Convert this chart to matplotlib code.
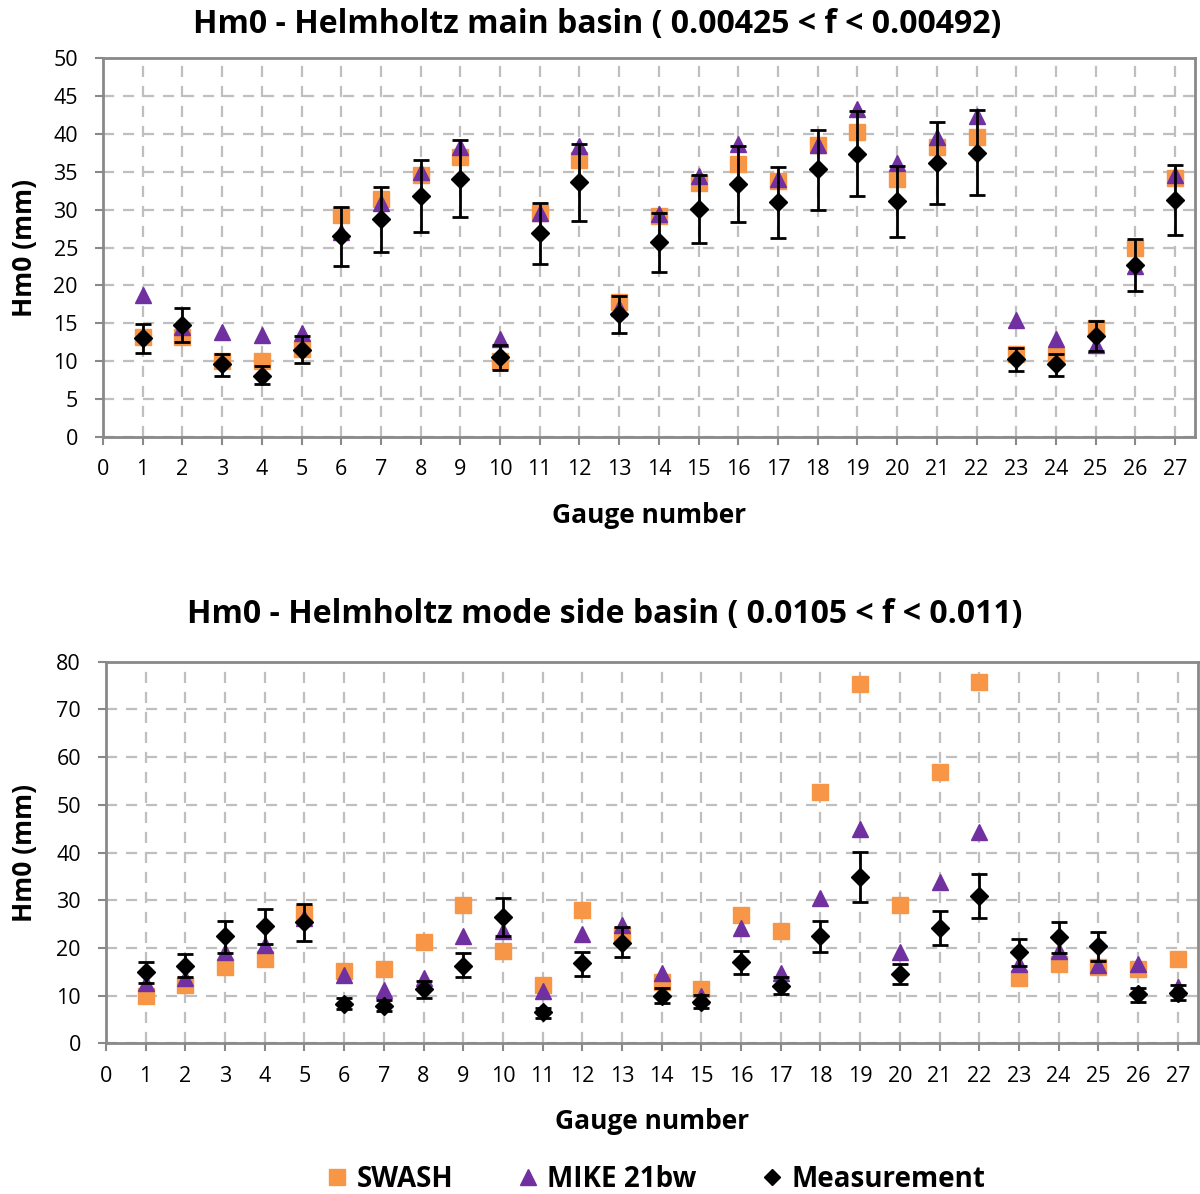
import numpy as np
import matplotlib
matplotlib.use("Agg")
import matplotlib.pyplot as plt
from matplotlib.lines import Line2D

plt.rcParams['font.family'] = ['Open Sans', 'DejaVu Sans']

gauges = list(range(1, 28))

# Top chart: main basin
swash_main = [13.2, 13.2, 10.0, 10.0, 11.6, 29.3, 31.4, 34.6, 37.0, 10.0, 29.6, 36.6, 17.8, 29.2,
              33.5, 36.0, 33.8, 38.5, 40.2, 34.1, 38.3, 39.6, 10.9, 10.7, 14.4, 24.9, 34.2]
mike_main = [18.7, 14.5, 13.8, 13.5, 13.7, 27.1, 30.9, 35.0, 38.2, 12.9, 29.5, 38.4, 17.0, 29.4,
             34.4, 38.7, 34.0, 38.5, 43.3, 36.1, 39.6, 42.3, 15.5, 12.9, 12.2, 22.6, 34.6]
meas_main = [13.1, 14.8, 9.6, 8.1, 11.5, 26.5, 28.7, 31.8, 34.1, 10.6, 26.9, 33.6, 16.2, 25.7,
             30.1, 33.4, 31.0, 35.3, 37.4, 31.1, 36.2, 37.5, 10.3, 9.6, 13.3, 22.7, 31.3]
meas_main_hi = [14.9, 17.0, 11.0, 9.4, 13.3, 30.4, 33.0, 36.6, 39.2, 12.1, 30.9, 38.7, 18.6, 29.5,
                34.6, 38.4, 35.6, 40.5, 43.0, 35.8, 41.6, 43.2, 11.8, 11.0, 15.3, 26.1, 35.9]
meas_main_lo = [11.1, 12.6, 8.1, 7.0, 9.8, 22.5, 24.4, 27.0, 29.0, 8.9, 22.8, 28.5, 13.7, 21.8,
                25.6, 28.4, 26.3, 30.0, 31.8, 26.4, 30.8, 31.9, 8.7, 8.1, 11.3, 19.3, 26.6]

# Bottom chart: side basin
swash_side = [10.0, 12.2, 15.9, 17.7, 27.4, 15.2, 15.6, 21.2, 28.9, 19.4, 12.2, 28.0, 22.7, 12.9,
              11.4, 26.9, 23.6, 52.6, 75.3, 29.1, 56.8, 75.8, 13.6, 16.6, 15.9, 15.6, 17.7]
mike_side = [12.6, 13.6, 19.1, 20.6, 26.3, 14.3, 11.2, 13.6, 22.6, 23.5, 11.0, 22.9, 24.7, 14.8,
             9.9, 24.1, 14.7, 30.5, 44.9, 19.2, 33.8, 44.2, 16.6, 19.4, 16.4, 16.6, 11.9]
meas_side = [14.9, 16.2, 22.4, 24.5, 25.5, 8.2, 7.9, 11.3, 16.3, 26.4, 6.5, 16.8, 21.1, 9.9,
             8.7, 17.0, 12.1, 22.4, 34.9, 14.5, 24.1, 30.9, 19.1, 22.2, 20.3, 10.3, 10.6]
meas_side_hi = [17.1, 18.7, 25.6, 28.2, 29.2, 9.6, 9.1, 13.1, 18.9, 30.4, 7.3, 19.2, 24.3, 11.5,
                10.1, 19.4, 13.8, 25.6, 40.1, 16.7, 27.7, 35.4, 21.9, 25.4, 23.3, 11.7, 12.2]
meas_side_lo = [12.7, 13.8, 19.0, 20.8, 21.5, 7.1, 6.8, 9.6, 13.8, 22.5, 5.4, 14.2, 18.0, 8.5,
                7.5, 14.5, 10.3, 19.1, 29.6, 12.4, 20.6, 26.2, 16.3, 18.9, 17.2, 8.7, 9.1]

titles = ["Hm0 - Helmholtz main basin ( 0.00425 < f < 0.00492)",
          "Hm0 - Helmholtz mode side basin ( 0.0105 < f < 0.011)"]
xticks = list(range(0, 28))

ORANGE = '#F79646'
PURPLE = '#7030A0'
GRIDC = '#BFBFBF'
SPINEC = '#898989'

fig = plt.figure(figsize=(12, 11.94), dpi=100)
ax1 = fig.add_axes([0.0858, 0.634, 0.9100, 0.3174])
ax2 = fig.add_axes([0.0883, 0.1262, 0.9097, 0.3196])


def draw(ax, sw, mk, ms, hi, lo, ymax, ystep, ylab_x):
    ax.plot(gauges, sw, linestyle='none', marker='s', markersize=11, color=ORANGE, zorder=3)
    ax.plot(gauges, mk, linestyle='none', marker='^', markersize=12, color=PURPLE, zorder=4)
    ms_a = np.array(ms)
    yerr = [ms_a - np.array(lo), np.array(hi) - ms_a]
    ax.errorbar(gauges, ms, yerr=yerr, fmt='D', markersize=9, color='black', ecolor='black',
                elinewidth=2, capsize=6, capthick=2, zorder=5)
    ax.set_xlim(0, 27.5)
    ax.set_ylim(0, ymax)
    ax.set_xticks(xticks)
    ax.set_yticks(np.arange(0, ymax + 1, ystep))
    ax.grid(True, linestyle=(0, (5, 4)), color=GRIDC, linewidth=1.6)
    ax.set_axisbelow(True)
    for s in ax.spines.values():
        s.set_color(SPINEC)
        s.set_linewidth(2)
    ax.tick_params(axis='both', colors=SPINEC, labelcolor='black', labelsize=15.5, length=6, width=1.5)
    ax.tick_params(axis='x', pad=10)
    ax.tick_params(axis='y', pad=12)
    ax.set_xlabel('Gauge number', fontsize=19, fontweight='bold', va='center')
    ax.xaxis.set_label_coords(0.5, -0.206)
    ax.set_ylabel('Hm0 (mm)', fontsize=19, fontweight='bold', va='center')
    ax.yaxis.set_label_coords(ylab_x, 0.5)


draw(ax1, swash_main, mike_main, meas_main, meas_main_hi, meas_main_lo, 50, 5, -0.0714)
draw(ax2, swash_side, mike_side, meas_side, meas_side_hi, meas_side_lo, 80, 10, -0.0742)

fig.text(0.498, 1 - 25 / 1194, titles[0], fontsize=23, fontweight='bold', ha='center', va='center')
fig.text(0.504, 1 - 614 / 1194, titles[1], fontsize=23, fontweight='bold', ha='center', va='center')

handles = [Line2D([], [], linestyle='none', marker='s', markersize=11, color=ORANGE),
           Line2D([], [], linestyle='none', marker='^', markersize=11, color=PURPLE),
           Line2D([], [], linestyle='none', marker='D', markersize=8, color='black')]
fig.legend(handles, ['SWASH', 'MIKE 21bw', 'Measurement'], loc='center',
           bbox_to_anchor=(0.545, 0.012), ncol=3, frameon=False,
           prop={'size': 20, 'weight': 'bold'}, handletextpad=0.2, columnspacing=2.2,
           handlelength=1.0)

fig.savefig('out.png', dpi=100)
